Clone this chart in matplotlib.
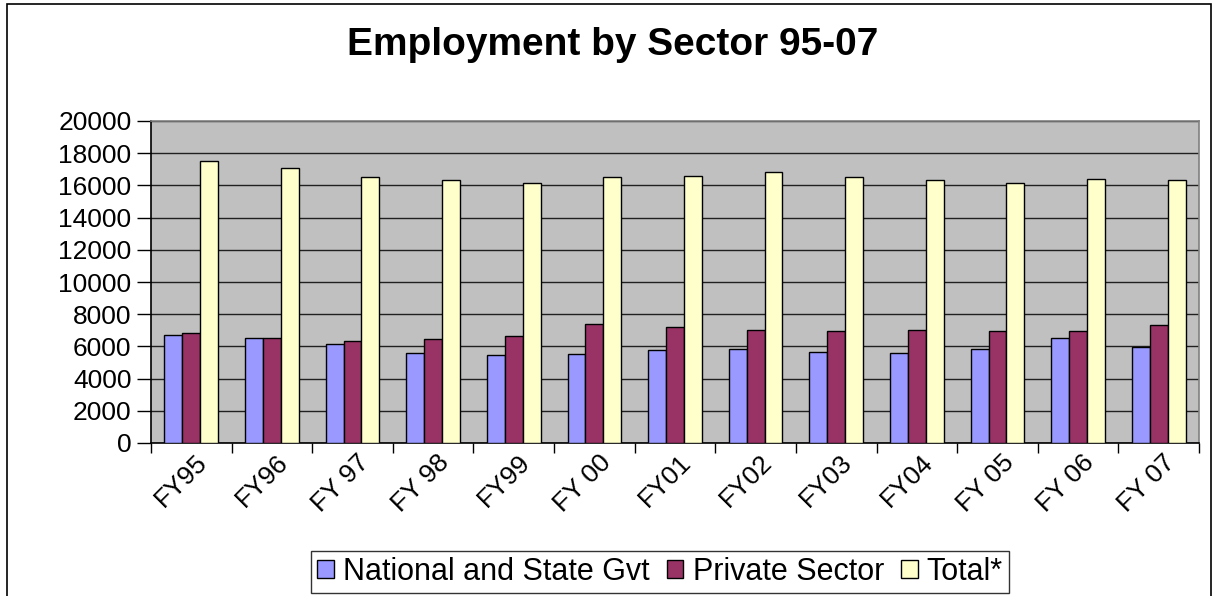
"""
Employment by Sector 95-07 - clustered bar chart (Excel style)
"""
import matplotlib
matplotlib.use("Agg")
import matplotlib.pyplot as plt
import numpy as np
from matplotlib.patches import Rectangle

plt.rcParams['font.family'] = ['Liberation Sans', 'DejaVu Sans']

# data
years = ["FY95", "FY96", "FY 97", "FY 98", "FY99", "FY 00", "FY01",
         "FY02", "FY03", "FY04", "FY 05", "FY 06", "FY 07"]
gov = [6730, 6540, 6150, 5570, 5470, 5530, 5760, 5860, 5650, 5570, 5860, 6540, 5940]
private = [6830, 6540, 6360, 6440, 6650, 7390, 7230, 7020, 6940, 7020, 6940, 6940, 7310]
total = [17490, 17080, 16500, 16310, 16130, 16520, 16600, 16810, 16520, 16310, 16130, 16420, 16310]

series_names = ["National and State Gvt", "Private Sector", "Total*"]
series_colors = ["#9999FF", "#993366", "#FFFFCC"]

W, H = 1218, 596
fig = plt.figure(figsize=(W / 100, H / 100), dpi=100)
fig.patch.set_facecolor("white")

# outer chart border
fig.add_artist(Rectangle((7 / W, -0.01), (1211 - 7) / W, 1 - 4 / H + 0.01,
                         transform=fig.transFigure, fill=False,
                         edgecolor="black", linewidth=1.2))

ax = fig.add_axes([151 / W, 1 - 443 / H, (1199 - 151) / W, (443 - 121) / H])
ax.set_facecolor("#C0C0C0")

x = np.arange(len(years))
width = 0.222
for i, (vals, name, col) in enumerate(zip([gov, private, total], series_names, series_colors)):
    ax.bar(x + (i - 1) * width, vals, width, color=col, edgecolor="black",
           linewidth=1.0, label=name, zorder=3)

ax.set_xlim(-0.5, len(years) - 0.5)
ax.set_ylim(0, 20000)
ax.set_yticks(np.arange(0, 20001, 2000))
ax.yaxis.grid(True, color="#202020", linewidth=1.0, zorder=1)
ax.set_axisbelow(True)

# category boundaries get the tick marks, labels sit at centres
ax.set_xticks(x + 0.05)
ax.set_xticklabels(years, rotation=45, ha="right", va="top",
                   rotation_mode="anchor", fontsize=19)
ax.set_xticks(np.arange(-0.5, len(years)), minor=True)
ax.tick_params(axis="x", which="major", length=0, pad=5)
ax.tick_params(axis="x", which="minor", length=7, width=1.0, direction="out")
ax.tick_params(axis="y", length=10, width=1.0, direction="out", labelsize=19, pad=4)

for s in ["left", "bottom"]:
    ax.spines[s].set_color("black")
    ax.spines[s].set_linewidth(1.2)
for s in ["top", "right"]:
    ax.spines[s].set_color("#808080")
    ax.spines[s].set_linewidth(1.2)

fig.text(0.503, 1 - 45 / H, "Employment by Sector 95-07", ha="center", va="center",
         fontsize=28, fontweight="bold")

leg = fig.legend(loc="lower center", bbox_to_anchor=(660 / W, 3 / H), ncol=3,
                 fontsize=22, frameon=True, fancybox=False, handlelength=0.55,
                 handleheight=0.55, handletextpad=0.3, columnspacing=0.55,
                 borderpad=0.2, borderaxespad=0)
leg.get_frame().set_edgecolor("black")
leg.get_frame().set_linewidth(1.0)

fig.savefig("out.png", dpi=100)
